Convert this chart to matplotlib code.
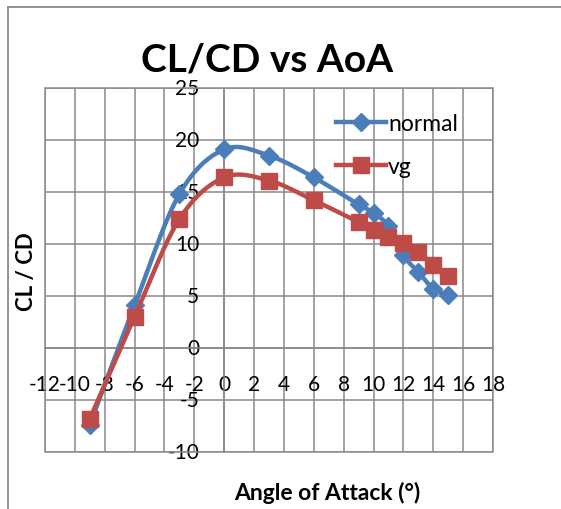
import numpy as np
import matplotlib
matplotlib.use("Agg")
import matplotlib.pyplot as plt
from matplotlib.lines import Line2D

# Data
aoa = [-9, -6, -3, 0, 3, 6, 9, 10, 11, 12, 13, 14, 15]
normal = [-7.4, 4.1, 14.8, 19.1, 18.5, 16.4, 13.8, 13.0, 11.7, 8.9, 7.3, 5.7, 5.1]
vg = [-6.8, 3.0, 12.4, 16.4, 16.1, 14.2, 12.1, 11.3, 10.7, 10.1, 9.2, 8.0, 6.9]
series_names = ["normal", "vg"]
xticks = list(range(-12, 19, 2))
yticks = list(range(-10, 26, 5))

plt.rcParams['font.family'] = ['Lato', 'DejaVu Sans']
plt.rcParams['axes.unicode_minus'] = False

BLUE = "#4A7EBB"
RED = "#BE4B48"
GRID = "#898989"


def smooth(x, y, n=20):
    # Excel-like smoothed line (Catmull-Rom Bezier) for drawing only
    x = np.asarray(x, float); y = np.asarray(y, float)
    P = np.column_stack([x, y])
    out = []
    for i in range(len(P) - 1):
        p0 = P[i - 1] if i > 0 else P[i]
        p1 = P[i]; p2 = P[i + 1]
        p3 = P[i + 2] if i + 2 < len(P) else P[i + 1]
        c1 = p1 + (p2 - p0) / 6.0
        c2 = p2 - (p3 - p1) / 6.0
        t = np.linspace(0, 1, n)[:, None]
        seg = (1 - t) ** 3 * p1 + 3 * (1 - t) ** 2 * t * c1 + 3 * (1 - t) * t ** 2 * c2 + t ** 3 * p2
        out.append(seg if i == 0 else seg[1:])
    s = np.vstack(out)
    return s[:, 0], s[:, 1]


fig = plt.figure(figsize=(5.61, 5.10), dpi=100)
ax = fig.add_axes([45 / 561, 1 - 453 / 510, 448 / 561, 364 / 510])

ax.set_xlim(-12, 18)
ax.set_ylim(-10, 25)
ax.set_xticks(xticks)
ax.set_yticks(yticks)
ax.grid(True, color=GRID, linewidth=1.1)
ax.set_axisbelow(True)

for sp in ['top', 'right']:
    ax.spines[sp].set_visible(False)
ax.spines['left'].set_position(('data', 0))
ax.spines['bottom'].set_position(('data', 0))
for sp in ['left', 'bottom']:
    ax.spines[sp].set_color(GRID)
    ax.spines[sp].set_linewidth(1.1)
ax.add_patch(plt.Rectangle((0, 0), 1, 1, transform=ax.transAxes, fill=False,
                           edgecolor=GRID, linewidth=1.1, clip_on=False, zorder=1))

ax.tick_params(axis='x', length=0, pad=19, labelsize=15)
ax.tick_params(axis='y', length=0, pad=18, labelsize=15)
for lab in ax.get_yticklabels():
    lab.set_verticalalignment('center')

sx, sy = smooth(aoa, normal)
ax.plot(sx, sy, color=BLUE, linewidth=3.2, zorder=3, solid_capstyle='round')
ax.plot(aoa, normal, linestyle='none', marker='D', markersize=9.5, color=BLUE, zorder=4)
sx, sy = smooth(aoa, vg)
ax.plot(sx, sy, color=RED, linewidth=3.2, zorder=5, solid_capstyle='round')
ax.plot(aoa, vg, linestyle='none', marker='s', markersize=12, color=RED, zorder=6)

handles = [Line2D([], [], color=BLUE, linewidth=3.2, marker='D', markersize=9.5),
           Line2D([], [], color=RED, linewidth=3.2, marker='s', markersize=12)]
ax.legend(handles, series_names, loc='upper left', bbox_to_anchor=(0.63, 0.957),
          frameon=False, fontsize=16.5, handlelength=2.15, handletextpad=0.1,
          labelspacing=0.95, borderaxespad=0)

fig.text(267 / 561, 1 - 60 / 510, "CL/CD vs AoA", ha='center', va='center',
         fontsize=28, fontweight='bold')
fig.text(27 / 561, 1 - 272 / 510, "CL / CD", ha='center', va='center',
         rotation=90, fontsize=16, fontweight='bold')
fig.text(327 / 561, 1 - 493 / 510, "Angle of Attack (°)", ha='center', va='center',
         fontsize=16.5, fontweight='bold')

# outer chart border (left and top visible)
fig.add_artist(Line2D([8 / 561, 8 / 561], [0, 1 - 8 / 510], transform=fig.transFigure,
                      color=GRID, linewidth=1.3))
fig.add_artist(Line2D([8 / 561, 1], [1 - 8 / 510, 1 - 8 / 510], transform=fig.transFigure,
                      color=GRID, linewidth=1.3))

fig.savefig("out.png", dpi=100)
